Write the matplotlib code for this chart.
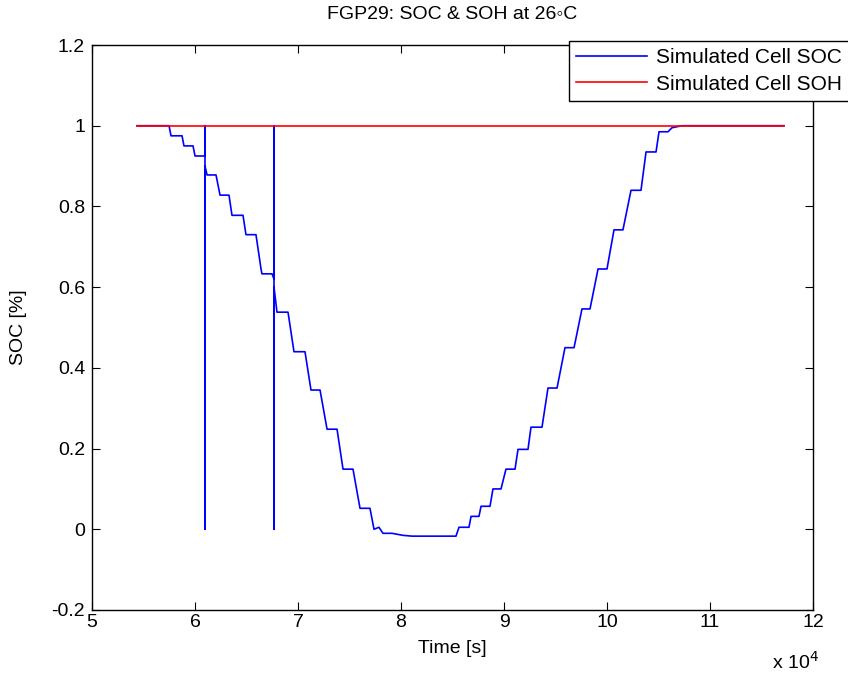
import matplotlib
matplotlib.use("Agg")
import matplotlib.pyplot as plt
import numpy as np

plt.rcParams['font.family'] = ['Liberation Sans', 'DejaVu Sans']

# simulated SOC trace (time in s, SOC as fraction)
soc_time = [54370, 57480, 57670, 58740, 58930, 59810, 60000, 60870,
            60970, 60970, 60970, 60970, 61170, 62040, 62430, 63300,
            63590, 64660, 64950, 65920, 66410, 66500, 67480, 67670,
            67670, 67670, 67670, 67960, 69030, 69610, 70680, 71260,
            72140, 72820, 73790, 74370, 75340, 76020, 76990, 77380,
            77860, 78250, 79130, 80190, 81070, 85340, 85630, 86600,
            86800, 87570, 87770, 88640, 88930, 89710, 90190, 91070,
            91360, 92330, 92620, 93690, 94270, 95150, 95920, 96800,
            97570, 98350, 99130, 100000, 100680, 101550, 102330, 103300,
            103790, 104760, 105050, 105920, 106310, 107280, 117180]
soc = [1.0, 1.0, 0.975, 0.975, 0.95, 0.95, 0.925, 0.925,
       0.925, 1.0, 0.0, 0.90, 0.878, 0.878, 0.828, 0.828,
       0.778, 0.778, 0.730, 0.730, 0.645, 0.633, 0.633, 0.62,
       1.0, 0.0, 0.60, 0.538, 0.538, 0.44, 0.44, 0.345,
       0.345, 0.248, 0.248, 0.149, 0.149, 0.052, 0.052, 0.0,
       0.005, -0.01, -0.01, -0.015, -0.017, -0.017, 0.005, 0.005,
       0.032, 0.032, 0.057, 0.057, 0.10, 0.10, 0.149, 0.149,
       0.198, 0.198, 0.253, 0.253, 0.35, 0.35, 0.45, 0.45,
       0.546, 0.546, 0.645, 0.645, 0.742, 0.742, 0.84, 0.84,
       0.935, 0.935, 0.985, 0.985, 0.995, 1.0, 1.0]

soh_time = [54370, 117180]
soh = [1.0, 1.0]

xticks = [5e4, 6e4, 7e4, 8e4, 9e4, 10e4, 11e4, 12e4]
xticklabels = ["5", "6", "7", "8", "9", "10", "11", "12"]
yticks = [-0.2, 0, 0.2, 0.4, 0.6, 0.8, 1.0, 1.2]
yticklabels = ["-0.2", "0", "0.2", "0.4", "0.6", "0.8", "1", "1.2"]

FS = 14

fig = plt.figure(figsize=(8.48, 6.75), dpi=100)
ax = fig.add_axes([92 / 848, 1 - 610 / 675, 721 / 848, 565 / 675])

ax.plot(soc_time, soc, color=(0, 0, 1), lw=1.2, label="Simulated Cell SOC")
ax.plot(soh_time, soh, color=(1, 0, 0), lw=1.2, label="Simulated Cell SOH")

ax.set_xlim(5e4, 12e4)
ax.set_ylim(-0.2, 1.2)
ax.set_xticks(xticks)
ax.set_xticklabels(xticklabels)
ax.set_yticks(yticks)
ax.set_yticklabels(yticklabels)
ax.tick_params(direction="in", length=6, width=0.8, top=True, right=True,
               labelsize=FS)
ax.tick_params(axis="x", pad=3)
ax.tick_params(axis="y", pad=5)
for sp in ax.spines.values():
    sp.set_linewidth(1.0)

ax.set_xlabel("Time [s]", fontsize=FS)
ax.xaxis.set_label_coords(0.5, -(640 - 610) / 565)
ax.set_ylabel("SOC [%]", fontsize=FS)
ax.yaxis.set_label_coords(-(92 - 27) / 721, 0.5)

fig.text(452 / 848, 1 - 19 / 675, "FGP29: SOC & SOH at 26\u25e6C",
         fontsize=FS, ha="center", va="baseline")

fig.text(772 / 848, 1 - 662 / 675, "x 10$^{4}$", fontsize=FS,
         ha="left", va="center")

leg = fig.legend(loc="upper left", bbox_to_anchor=(569 / 848, 1 - 41 / 675),
                 fontsize=15, handlelength=3.4, handletextpad=0.45,
                 labelspacing=0.35, borderpad=0.35, fancybox=False,
                 framealpha=1, edgecolor="black", borderaxespad=0)
leg.get_frame().set_linewidth(1.0)

plt.savefig("out.png", dpi=100)
